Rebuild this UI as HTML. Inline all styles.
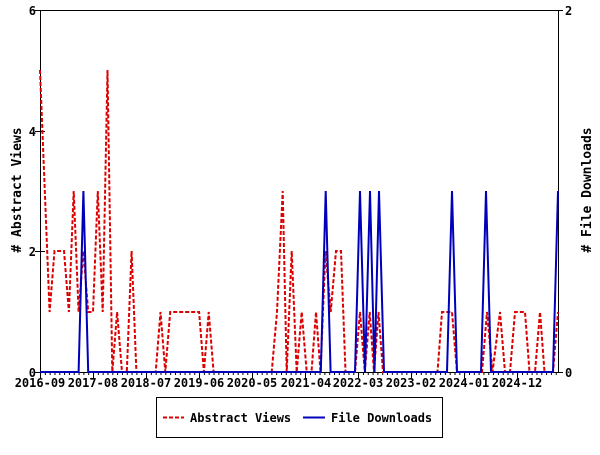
<!DOCTYPE html>
<html><head><meta charset="utf-8"><style>
body{margin:0;background:#fff}
text{font-family:"DejaVu Sans Mono","Liberation Mono",monospace;font-weight:bold;font-size:12px;fill:#000}
</style></head><body>
<svg width="600" height="450" xmlns="http://www.w3.org/2000/svg">
<defs>
<pattern id="mt" x="40" y="0" width="4.82" height="10" patternUnits="userSpaceOnUse">
<rect x="0" y="0" width="1" height="10" fill="#000"/>
</pattern>
</defs>
<rect width="600" height="450" fill="#fff"/>
<rect x="40" y="372" width="519" height="3" fill="url(#mt)"/>
<g stroke="#000">
<line x1="40.5" y1="372" x2="40.5" y2="378"/><line x1="93.5" y1="372" x2="93.5" y2="378"/>
<line x1="146.5" y1="372" x2="146.5" y2="378"/><line x1="199.5" y1="372" x2="199.5" y2="378"/>
<line x1="252.5" y1="372" x2="252.5" y2="378"/><line x1="305.5" y1="372" x2="305.5" y2="378"/>
<line x1="358.5" y1="372" x2="358.5" y2="378"/><line x1="411.5" y1="372" x2="411.5" y2="378"/>
<line x1="464.5" y1="372" x2="464.5" y2="378"/><line x1="517.5" y1="372" x2="517.5" y2="378"/>
</g>
<line x1="40.5" y1="10" x2="40.5" y2="372" stroke="#000"/>
<line x1="558.5" y1="10" x2="558.5" y2="372" stroke="#000"/>
<line x1="40" y1="10.5" x2="559" y2="10.5" stroke="#000"/>
<line x1="40" y1="372.5" x2="559" y2="372.5" stroke="#000"/>
<g stroke="#000">
<line x1="35" y1="372.5" x2="45" y2="372.5"/><line x1="35" y1="251.5" x2="45" y2="251.5"/>
<line x1="35" y1="131.5" x2="45" y2="131.5"/><line x1="35" y1="10.5" x2="45" y2="10.5"/>
<line x1="554" y1="10.5" x2="563" y2="10.5"/><line x1="554" y1="372.5" x2="563" y2="372.5"/>
</g>
<g text-anchor="end">
<text x="36" y="377">0</text><text x="36" y="256">2</text><text x="36" y="136">4</text><text x="36" y="15">6</text>
</g>
<text x="565" y="15">2</text><text x="565" y="377">0</text>
<g text-anchor="middle">
<text x="40" y="387">2016-09</text><text x="93" y="387">2017-08</text><text x="146" y="387">2018-07</text>
<text x="199" y="387">2019-06</text><text x="252" y="387">2020-05</text><text x="306" y="387">2021-04</text>
<text x="358" y="387">2022-03</text><text x="411" y="387">2023-02</text><text x="464" y="387">2024-01</text>
<text x="517" y="387">2024-12</text>
</g>
<text transform="translate(21,190) rotate(-90)" text-anchor="middle" style="font-size:13px">#&#160;Abstract&#160;Views</text>
<text transform="translate(591,190) rotate(-90)" text-anchor="middle" style="font-size:13px">#&#160;File&#160;Downloads</text>
<polyline fill="none" stroke="#dd0000" stroke-width="2" stroke-dasharray="4,2" points="
40,70 44.8,191 49.6,312 54.5,251 59.3,251 64,251 68.9,312 73.7,191 78.6,312 83.4,251 88.2,312 93,312 97.8,191 102.7,312 107.5,70 112.3,372 117.1,312 122,372 126.8,372 131.6,251 136.4,372 155.7,372 160.5,312 165.3,372 170.2,312 199.1,312 203.9,372 208.7,312 213.6,372 271.7,372 277,312 282.7,191 286.7,372 291.7,251 296.7,372 301.7,312 306.7,372 311.5,372 316,312 320.5,372 325.5,251 330.7,312 336,251 341,251 345.5,372 355,372 360,312 364.8,372 369.7,312 374,372 378.5,312 383,372 437.5,372 442,312 447,312 452,312 457,372 482,372 487,312 492.5,372 500,312 505,372 510,372 515,312 520,312 525,312 529.5,372 535,372 540,312 544.5,372 553,372 558,312"/>
<polyline fill="none" stroke="#0000bb" stroke-width="2" points="
40,372 78.6,372 83.4,191 88.2,372 320.8,372 325.7,191 330.6,372 355,372 360,191 365,372 370,191 374.5,372 379,191 384,372 447,372 452,191 457,372 481,372 486,191 491,372 553,372 558,191"/>
<rect x="156.5" y="397.5" width="286" height="40" fill="#fff" stroke="#000"/>
<line x1="163" y1="417.5" x2="184" y2="417.5" stroke="#dd0000" stroke-width="2" stroke-dasharray="4,2"/>
<text x="190" y="422">Abstract Views</text>
<line x1="303" y1="417.5" x2="325" y2="417.5" stroke="#0000bb" stroke-width="2"/>
<text x="331" y="422">File Downloads</text>
</svg>
</body></html>
